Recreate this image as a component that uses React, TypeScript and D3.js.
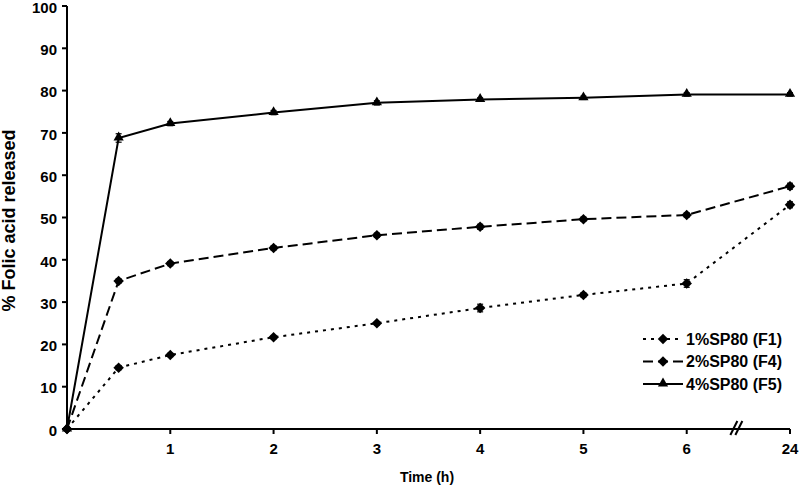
import React from "react";
import * as d3 from "d3";

const timeLabels = ["0", "0.5", "1", "2", "3", "4", "5", "6", "24"];
const timePos = [0, 0.5, 1, 2, 3, 4, 5, 6, 7];
const xTickPos = [1, 2, 3, 4, 5, 6, 7];
const xTickLabels = ["1", "2", "3", "4", "5", "6", "24"];
const yTicks = [0, 10, 20, 30, 40, 50, 60, 70, 80, 90, 100];

const f1 = [0, 14.5, 17.5, 21.7, 25.0, 28.6, 31.7, 34.4, 53.0];
const f4 = [0, 35.0, 39.1, 42.8, 45.8, 47.8, 49.6, 50.6, 57.4];
const f5 = [0, 68.8, 72.2, 74.8, 77.1, 77.9, 78.3, 79.1, 79.1];
const f1Err = [0, 0.5, 0.4, 0.4, 0.4, 0.9, 0.5, 0.9, 0.7];
const f4Err = [0, 0.5, 0.5, 0.5, 0.5, 0.6, 0.5, 0.5, 0.7];
const f5Err = [0, 1.0, 0.5, 0.5, 0.5, 0.4, 0.4, 0.4, 0.4];

const seriesNames = ["1%SP80 (F1)", "2%SP80 (F4)", "4%SP80 (F5)"];

const W = 799, H = 487;
const x = d3.scaleLinear().domain([0, 7]).range([67, 790]);
const y = d3.scaleLinear().domain([0, 100]).range([429, 6]);

const FONT = "'Liberation Sans', Arial, sans-serif";

type S = { vals: number[]; err: number[]; dash: string; marker: "diamond" | "triangle"; name: string };
const series: S[] = [
  { vals: f1, err: f1Err, dash: "3,5", marker: "diamond", name: seriesNames[0] },
  { vals: f4, err: f4Err, dash: "10,5", marker: "diamond", name: seriesNames[1] },
  { vals: f5, err: f5Err, dash: "none", marker: "triangle", name: seriesNames[2] },
];

const diamond = d3.symbol().type(d3.symbolDiamond2).size(70)() as string;
const triangle = d3.symbol().type(d3.symbolTriangle2).size(75)() as string;

function Marker({ kind, cx, cy }: { kind: string; cx: number; cy: number }) {
  return <path d={kind === "diamond" ? diamond : triangle} transform={`translate(${cx},${cy + (kind === "triangle" ? -0.5 : 0)})`} fill="#000" />;
}

export default function App() {
  const line = d3.line<number>().x((_, i) => x(timePos[i])).y((d) => y(d));
  return (
    <svg width={W} height={H} style={{ position: "absolute", left: 0, top: 0, background: "#fff" }} fontFamily={FONT}>
      <rect width={W} height={H} fill="#fff" />
      {/* axes */}
      <line x1={x(0)} x2={x(0)} y1={y(0)} y2={y(100)} stroke="#000" strokeWidth={2} />
      <line x1={x(0)} x2={x(7)} y1={y(0)} y2={y(0)} stroke="#000" strokeWidth={2} />
      {yTicks.map((t) => (
        <g key={t}>
          <line x1={x(0) - 5} x2={x(0)} y1={y(t)} y2={y(t)} stroke="#000" strokeWidth={2} />
          <text x={57} y={y(t) + 1.5} dy="0.35em" textAnchor="end" fontSize={15} fontWeight="bold">{t}</text>
        </g>
      ))}
      {xTickPos.map((p, i) => (
        <g key={p}>
          <line x1={x(p)} x2={x(p)} y1={y(0)} y2={y(0) + 5} stroke="#000" strokeWidth={2} />
          <text x={x(p)} y={454} textAnchor="middle" fontSize={15} fontWeight="bold">{xTickLabels[i]}</text>
        </g>
      ))}
      {/* axis break */}
      <line x1={x(6.5) - 8} y1={y(0) + 6} x2={x(6.5) - 1} y2={y(0) - 8} stroke="#000" strokeWidth={2} />
      <line x1={x(6.5) - 3} y1={y(0) + 6} x2={x(6.5) + 4} y2={y(0) - 8} stroke="#000" strokeWidth={2} />
      {/* titles */}
      <text transform={`translate(15,${(y(0) + y(100)) / 2 + 3}) rotate(-90)`} textAnchor="middle" fontSize={18} fontWeight="bold">% Folic acid released</text>
      <text x={427} y={482} textAnchor="middle" fontSize={14} fontWeight="bold">Time (h)</text>
      {/* series */}
      {series.map((s, si) => (
        <g key={si}>
          <path d={line(s.vals) as string} fill="none" stroke="#000" strokeWidth={2} strokeDasharray={s.dash} />
          {s.vals.map((v, i) =>
            s.err[i] > 0 ? (
              <g key={i}>
                <line x1={x(timePos[i])} x2={x(timePos[i])} y1={y(v - s.err[i])} y2={y(v + s.err[i])} stroke="#000" strokeWidth={1.2} />
                <line x1={x(timePos[i]) - 3} x2={x(timePos[i]) + 3} y1={y(v + s.err[i])} y2={y(v + s.err[i])} stroke="#000" strokeWidth={1.2} />
                <line x1={x(timePos[i]) - 3} x2={x(timePos[i]) + 3} y1={y(v - s.err[i])} y2={y(v - s.err[i])} stroke="#000" strokeWidth={1.2} />
              </g>
            ) : null
          )}
          {s.vals.map((v, i) => (
            <Marker key={"m" + i} kind={s.marker} cx={x(timePos[i])} cy={y(v)} />
          ))}
        </g>
      ))}
      {/* legend */}
      {series.map((s, si) => {
        const ly = 339 + si * 22.5;
        return (
          <g key={"l" + si}>
            <line x1={643} x2={683} y1={ly} y2={ly} stroke="#000" strokeWidth={2} strokeDasharray={s.dash} />
            <Marker kind={s.marker} cx={663} cy={ly} />
            <text x={686} y={ly} dy="0.36em" fontSize={16} fontWeight="bold">{s.name}</text>
          </g>
        );
      })}
    </svg>
  );
}
